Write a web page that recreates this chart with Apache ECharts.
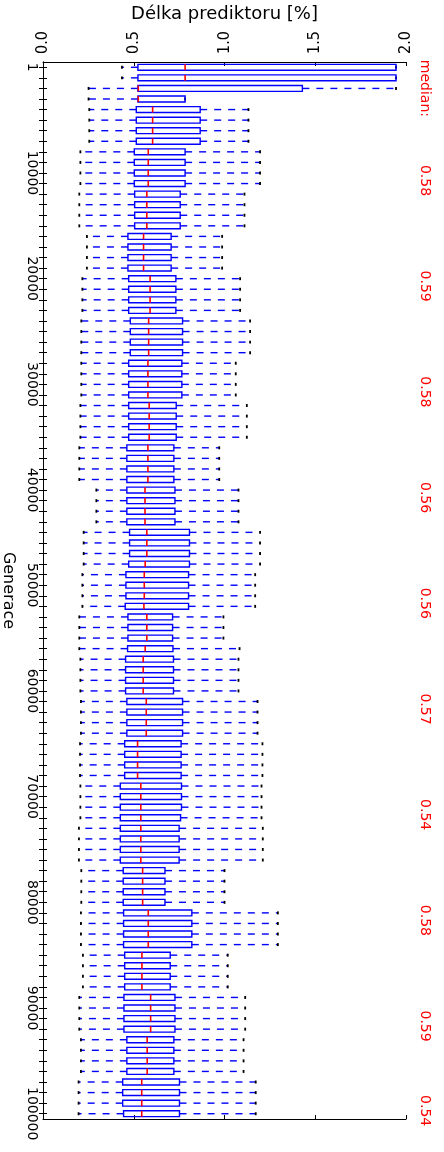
<!DOCTYPE html>
<html>
<head>
<meta charset="utf-8">
<script src="https://cdn.jsdelivr.net/npm/echarts/dist/echarts.min.js"></script>
<style>
  html, body { margin: 0; padding: 0; background: #ffffff; }
  #graf { width: 444px; height: 1152px; }
</style>
</head>
<body>
<div id="graf"></div>
<script>
// Statistiky délky prediktoru pro jednotlivé vzorky generací (shora dolů)
const dolniVous = [
  0.435, 0.435, 0.251, 0.251, 0.255, 0.255, 0.255, 0.255, 0.206, 0.206,
  0.206, 0.206, 0.200, 0.200, 0.200, 0.200, 0.242, 0.242, 0.242, 0.242,
  0.217, 0.217, 0.217, 0.217, 0.211, 0.211, 0.211, 0.211, 0.211, 0.211,
  0.211, 0.211, 0.206, 0.206, 0.206, 0.206, 0.200, 0.200, 0.200, 0.200,
  0.294, 0.294, 0.294, 0.294, 0.224, 0.224, 0.224, 0.224, 0.217, 0.217,
  0.217, 0.217, 0.200, 0.200, 0.200, 0.200, 0.206, 0.206, 0.206, 0.206,
  0.209, 0.209, 0.209, 0.209, 0.204, 0.204, 0.204, 0.204, 0.206, 0.206,
  0.206, 0.206, 0.198, 0.198, 0.198, 0.198, 0.211, 0.211, 0.211, 0.211,
  0.209, 0.209, 0.209, 0.209, 0.220, 0.220, 0.220, 0.220, 0.200, 0.200,
  0.200, 0.200, 0.209, 0.209, 0.209, 0.209, 0.196, 0.196, 0.196, 0.196
];
const dolniKvartil = [
  0.523, 0.523, 0.523, 0.523, 0.514, 0.514, 0.514, 0.514, 0.503, 0.503,
  0.503, 0.503, 0.505, 0.505, 0.505, 0.505, 0.468, 0.468, 0.468, 0.468,
  0.472, 0.472, 0.472, 0.472, 0.481, 0.481, 0.481, 0.481, 0.472, 0.472,
  0.472, 0.472, 0.472, 0.472, 0.472, 0.472, 0.462, 0.462, 0.462, 0.462,
  0.462, 0.462, 0.462, 0.462, 0.477, 0.477, 0.477, 0.472, 0.457, 0.457,
  0.457, 0.453, 0.468, 0.468, 0.468, 0.466, 0.455, 0.455, 0.455, 0.455,
  0.462, 0.462, 0.462, 0.462, 0.450, 0.450, 0.450, 0.450, 0.426, 0.426,
  0.426, 0.426, 0.426, 0.426, 0.426, 0.426, 0.442, 0.442, 0.442, 0.442,
  0.444, 0.444, 0.444, 0.444, 0.450, 0.450, 0.450, 0.450, 0.446, 0.446,
  0.446, 0.446, 0.462, 0.462, 0.462, 0.462, 0.439, 0.439, 0.439, 0.444
];
const medianDelky = [
  0.783, 0.783, 0.525, 0.525, 0.604, 0.604, 0.604, 0.604, 0.580, 0.580,
  0.580, 0.580, 0.572, 0.572, 0.572, 0.572, 0.554, 0.554, 0.554, 0.554,
  0.590, 0.590, 0.590, 0.590, 0.582, 0.582, 0.582, 0.582, 0.578, 0.578,
  0.578, 0.578, 0.585, 0.585, 0.585, 0.585, 0.578, 0.578, 0.578, 0.578,
  0.562, 0.562, 0.562, 0.562, 0.572, 0.572, 0.572, 0.563, 0.558, 0.558,
  0.558, 0.556, 0.572, 0.572, 0.572, 0.563, 0.552, 0.552, 0.552, 0.552,
  0.569, 0.569, 0.569, 0.569, 0.521, 0.521, 0.521, 0.521, 0.539, 0.539,
  0.539, 0.539, 0.539, 0.539, 0.539, 0.539, 0.549, 0.549, 0.549, 0.549,
  0.580, 0.580, 0.580, 0.580, 0.545, 0.545, 0.545, 0.545, 0.593, 0.593,
  0.593, 0.593, 0.574, 0.574, 0.574, 0.574, 0.544, 0.544, 0.544, 0.544
];
const horniKvartil = [
  1.945, 1.945, 1.429, 0.783, 0.866, 0.866, 0.866, 0.866, 0.783, 0.783,
  0.783, 0.783, 0.756, 0.756, 0.756, 0.756, 0.706, 0.706, 0.706, 0.706,
  0.732, 0.732, 0.732, 0.732, 0.769, 0.769, 0.769, 0.769, 0.765, 0.765,
  0.765, 0.765, 0.734, 0.734, 0.734, 0.734, 0.721, 0.721, 0.721, 0.721,
  0.727, 0.727, 0.727, 0.727, 0.807, 0.807, 0.807, 0.807, 0.802, 0.802,
  0.802, 0.802, 0.714, 0.714, 0.714, 0.716, 0.719, 0.719, 0.719, 0.719,
  0.769, 0.769, 0.769, 0.769, 0.761, 0.761, 0.761, 0.761, 0.763, 0.763,
  0.763, 0.758, 0.750, 0.750, 0.750, 0.750, 0.672, 0.672, 0.672, 0.672,
  0.820, 0.820, 0.820, 0.820, 0.701, 0.701, 0.701, 0.701, 0.727, 0.727,
  0.727, 0.727, 0.721, 0.721, 0.721, 0.721, 0.752, 0.752, 0.752, 0.752
];
const horniVous = [
  1.945, 1.945, 1.945, 0.783, 1.132, 1.132, 1.132, 1.132, 1.196, 1.196,
  1.196, 1.196, 1.110, 1.110, 1.110, 1.110, 0.987, 0.987, 0.987, 0.987,
  1.086, 1.086, 1.086, 1.086, 1.141, 1.141, 1.141, 1.141, 1.062, 1.062,
  1.062, 1.062, 1.123, 1.123, 1.123, 1.123, 0.971, 0.971, 0.971, 0.971,
  1.077, 1.077, 1.077, 1.077, 1.196, 1.196, 1.196, 1.196, 1.169, 1.169,
  1.169, 1.169, 0.994, 0.994, 0.994, 1.083, 1.077, 1.077, 1.077, 1.077,
  1.182, 1.182, 1.182, 1.182, 1.209, 1.209, 1.209, 1.209, 1.204, 1.204,
  1.204, 1.204, 1.211, 1.211, 1.211, 1.211, 1.000, 1.000, 1.000, 1.000,
  1.294, 1.294, 1.294, 1.294, 1.018, 1.018, 1.018, 1.018, 1.114, 1.114,
  1.114, 1.114, 1.105, 1.105, 1.105, 1.105, 1.172, 1.172, 1.172, 1.172
];

// Popisky osy generací a řádky, ke kterým patří
const popiskyGeneraci = ['1', '10000', '20000', '30000', '40000', '50000',
                         '60000', '70000', '80000', '90000', '100000'];
const radkyGeneraci = [0, 10, 20, 30, 40, 49, 59, 69, 79, 89, 99];

// Řádky, jejichž medián je vypsán vpravo
const radkyMedianu = [10, 20, 30, 40, 50, 60, 70, 80, 90, 98];
const radekNadpisuMedianu = 2;

// Popisky osy délky prediktoru
const popiskyDelky = ['0.0', '0.5', '1.0', '1.5', '2.0'];

const pocetRadku = medianDelky.length;
const radky = [];
for (let i = 0; i < pocetRadku; i++) radky.push(String(i));

const data = [];
for (let i = 0; i < pocetRadku; i++) {
  data.push([i, dolniVous[i], dolniKvartil[i], medianDelky[i], horniKvartil[i], horniVous[i]]);
}

const MODRA = '#0000ff';
const CERVENA = '#ff0000';
const PISMO = 'DejaVu Sans';
const UZKE_PISMO = "'Liberation Sans Narrow', 'DejaVu Sans Condensed', 'DejaVu Sans'";

function vykresliKrabici(params, api) {
  const r = api.value(0);
  const pLo = api.coord([api.value(1), r]);
  const pQ1 = api.coord([api.value(2), r]);
  const pMed = api.coord([api.value(3), r]);
  const pQ3 = api.coord([api.value(4), r]);
  const pHi = api.coord([api.value(5), r]);
  const pas = api.size([0, 1])[1];
  const pul = pas * 0.28;
  const y = pQ1[1];
  const vous = { stroke: MODRA, lineWidth: 1.4, lineDash: [7, 7], fill: null };
  const cap = { stroke: '#000000', lineWidth: 1.8, fill: null };
  return {
    type: 'group',
    children: [
      { type: 'line', shape: { x1: pQ1[0], y1: y, x2: pLo[0], y2: y }, style: vous },
      { type: 'line', shape: { x1: pQ3[0], y1: y, x2: pHi[0], y2: y }, style: vous },
      { type: 'line', shape: { x1: pLo[0], y1: y - pul / 2, x2: pLo[0], y2: y + pul / 2 }, style: cap },
      { type: 'line', shape: { x1: pHi[0], y1: y - pul / 2, x2: pHi[0], y2: y + pul / 2 }, style: cap },
      { type: 'rect', shape: { x: pQ1[0], y: y - pul, width: pQ3[0] - pQ1[0], height: 2 * pul },
        style: { stroke: MODRA, lineWidth: 1.4, fill: null } },
      { type: 'line', shape: { x1: pMed[0], y1: y - pul, x2: pMed[0], y2: y + pul },
        style: { stroke: CERVENA, lineWidth: 1.6 } }
    ]
  };
}

const graf = echarts.init(document.getElementById('graf'), null, { renderer: 'canvas' });

const spolecnaOsaX = {
  type: 'value', min: 0, max: 2, interval: 0.5,
  axisLine: { show: true, lineStyle: { color: '#000', width: 1 } },
  axisTick: { show: true, inside: true, length: 4, lineStyle: { color: '#000' } },
  splitLine: { show: false }
};
const spolecnaOsaY = {
  type: 'category', data: radky, inverse: true,
  axisLine: { show: true, lineStyle: { color: '#000', width: 1 } },
  axisTick: { show: true, inside: true, length: 4, alignWithLabel: true, interval: 0,
              lineStyle: { color: '#000' } },
  splitLine: { show: false }
};

graf.setOption({
  animation: false,
  backgroundColor: '#ffffff',
  grid: { left: 43, right: 38, top: 62, bottom: 33, containLabel: false, outerBoundsMode: 'none' },
  xAxis: [
    Object.assign({}, spolecnaOsaX, {
      position: 'top',
      name: 'Délka prediktoru [%]',
      nameLocation: 'middle',
      nameGap: 33,
      nameTextStyle: { fontFamily: PISMO, fontSize: 18, color: '#000' },
      axisLabel: {
        rotate: -90, margin: 8, fontFamily: UZKE_PISMO, fontSize: 16, color: '#000',
        formatter: (v) => popiskyDelky[Math.round(v / 0.5)]
      }
    }),
    Object.assign({}, spolecnaOsaX, { position: 'bottom', axisLabel: { show: false } })
  ],
  yAxis: [
    Object.assign({}, spolecnaOsaY, {
      position: 'left',
      name: 'Generace',
      nameLocation: 'middle',
      nameRotate: -90,
      nameGap: 27,
      nameTextStyle: { fontFamily: PISMO, fontSize: 16, color: '#000' },
      axisLabel: {
        interval: 0, rotate: -90, margin: 4, fontFamily: PISMO, fontSize: 14, color: '#000',
        align: 'center', verticalAlign: 'top',
        formatter: (v, i) => {
          const k = radkyGeneraci.indexOf(i);
          return k >= 0 ? popiskyGeneraci[k] : '';
        }
      }
    }),
    Object.assign({}, spolecnaOsaY, {
      position: 'right',
      axisLabel: {
        interval: 0, rotate: -90, margin: 12, fontFamily: PISMO, fontSize: 14, color: CERVENA,
        align: 'center', verticalAlign: 'bottom',
        formatter: (v, i) => {
          if (i === radekNadpisuMedianu) return '{h|median:}';
          return radkyMedianu.indexOf(i) >= 0 ? '{m|' + medianDelky[i].toFixed(2) + '}' : '';
        },
        rich: {
          h: { fontFamily: PISMO, fontSize: 14, color: CERVENA },
          m: { fontFamily: PISMO, fontSize: 14, color: CERVENA, padding: [0, 0, 0, 15] }
        }
      }
    })
  ],
  series: [{
    type: 'custom',
    xAxisIndex: 0,
    yAxisIndex: 0,
    renderItem: vykresliKrabici,
    encode: { x: [1, 2, 3, 4, 5], y: 0 },
    data: data,
    z: 3
  }]
});
</script>
</body>
</html>
